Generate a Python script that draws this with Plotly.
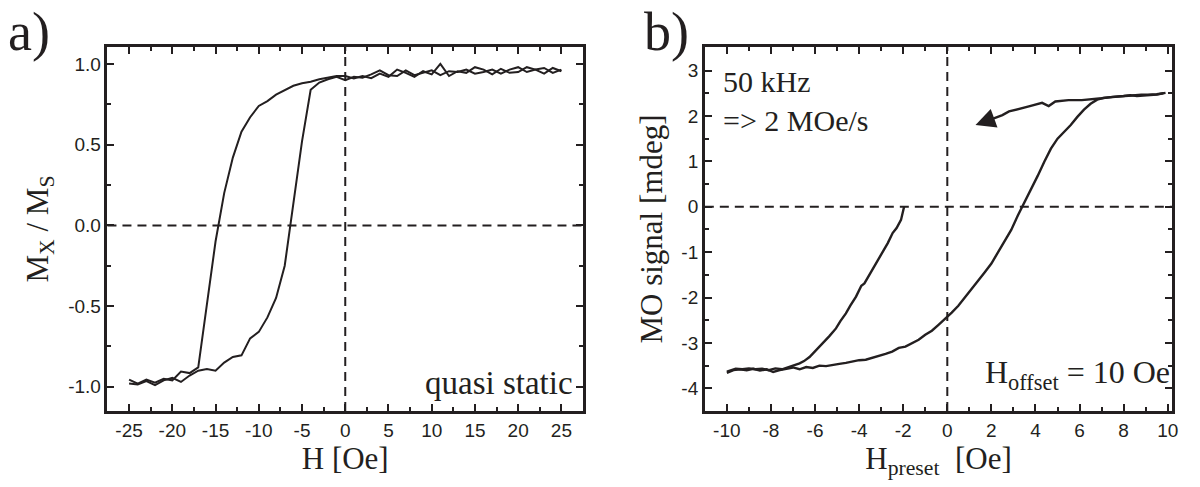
import plotly.graph_objects as go

# ---------------- Panel a data (quasi static loop) ----------------
H_down = [25, 24, 23, 22, 21, 20, 19, 18, 17, 16, 15, 14, 13, 12, 11, 10, 9, 8, 7, 6, 5, 4, 3, 2, 1, 0,
          -1, -2, -3, -4, -5, -6, -7, -8, -9, -10, -11, -12, -13, -14, -15, -16, -17, -18, -19, -20,
          -21, -22, -23, -24, -25]
M_down = [0.955, 0.975, 0.94, 0.965, 0.98, 0.95, 0.945, 0.97, 0.935, 0.965, 0.98, 0.945, 0.955, 0.925,
          1.0, 0.935, 0.955, 0.92, 0.945, 0.965, 0.92, 0.94, 0.912, 0.925, 0.91, 0.925,
          0.925, 0.915, 0.905, 0.89, 0.88, 0.865, 0.84, 0.81, 0.77, 0.74, 0.67, 0.58, 0.42, 0.20,
          -0.10, -0.50, -0.88, -0.915, -0.905, -0.96, -0.95, -0.975, -0.955, -0.98, -0.955]

H_up = [-25, -24, -23, -22, -21, -20, -19, -18, -17, -16, -15, -14, -13, -12, -11, -10, -9, -8, -7,
        -6, -5, -4, -3, -2, -1, 0, 1, 2, 3, 4, 5, 6, 7, 8, 9, 10, 11, 12, 13, 14, 15, 16, 17, 18, 19,
        20, 21, 22, 23, 24, 25]
M_up = [-0.98, -0.985, -0.965, -0.99, -0.96, -0.945, -0.97, -0.93, -0.90, -0.89, -0.90, -0.85, -0.815,
        -0.805, -0.70, -0.66, -0.57, -0.45, -0.25, 0.12, 0.52, 0.84, 0.885, 0.905, 0.92, 0.90, 0.92,
        0.915, 0.935, 0.96, 0.93, 0.925, 0.96, 0.93, 0.945, 0.96, 0.93, 0.955, 0.95, 0.965, 0.94,
        0.95, 0.965, 0.94, 0.965, 0.98, 0.95, 0.965, 0.975, 0.945, 0.965]

# ---------------- Panel b data (50 kHz loop) ----------------
Hb_up = [-10.0, -9.7, -9.4, -9.1, -8.8, -8.5, -8.2, -7.9, -7.6, -7.3, -7.0, -6.7, -6.4, -6.1, -5.8,
         -5.5, -5.2, -4.9, -4.6, -4.3, -4.0, -3.7, -3.4, -3.1, -2.8, -2.5, -2.2, -1.9, -1.6, -1.3,
         -1.0, -0.7, -0.4, -0.1, 0.2, 0.5, 0.8, 1.1, 1.4, 1.7, 2.0, 2.3, 2.6, 2.9, 3.2, 3.5, 3.8,
         4.1, 4.4, 4.7, 5.0, 5.3, 5.6, 5.9, 6.2, 6.5, 6.8, 7.1, 7.4, 7.7, 8.0, 8.3, 8.6, 8.9, 9.2,
         9.5, 9.8]
MO_up = [-3.66, -3.60, -3.58, -3.60, -3.57, -3.61, -3.58, -3.64, -3.60, -3.57, -3.54, -3.58, -3.53,
         -3.55, -3.50, -3.51, -3.48, -3.46, -3.44, -3.41, -3.38, -3.37, -3.33, -3.28, -3.24, -3.19,
         -3.11, -3.08, -3.00, -2.93, -2.82, -2.73, -2.60, -2.47, -2.33, -2.18, -2.00, -1.82, -1.63,
         -1.44, -1.25, -1.00, -0.76, -0.51, -0.19, 0.09, 0.38, 0.68, 0.99, 1.28, 1.50, 1.64, 1.80,
         1.98, 2.14, 2.27, 2.36, 2.40, 2.41, 2.43, 2.44, 2.46, 2.44, 2.45, 2.46, 2.47, 2.50]

Hb_down = [-1.96, -2.1, -2.3, -2.48, -2.7, -2.93, -3.1, -3.24, -3.5, -3.76, -3.9, -4.14, -4.4, -4.6,
           -4.85, -5.05, -5.35, -5.65, -5.95, -6.25, -6.5, -6.7, -7.0, -7.2, -7.5, -7.8, -8.1, -8.4,
           -8.7, -9.0, -9.3, -9.6, -10.0]
MO_down = [0.0, -0.29, -0.47, -0.58, -0.80, -0.99, -1.15, -1.25, -1.46, -1.69, -1.74, -1.98, -2.18,
           -2.35, -2.52, -2.68, -2.85, -3.01, -3.17, -3.31, -3.40, -3.45, -3.50, -3.53, -3.58, -3.56,
           -3.60, -3.57, -3.58, -3.56, -3.58, -3.57, -3.63]

Hb_top = [9.9, 9.5, 9.1, 8.8, 8.4, 7.9, 7.5, 7.0, 6.6, 6.1, 5.5, 4.9, 4.6, 4.3, 3.7, 3.4, 3.1, 2.8,
          2.5, 2.2, 1.9, 1.28]
MO_top = [2.51, 2.48, 2.47, 2.47, 2.45, 2.44, 2.42, 2.39, 2.37, 2.35, 2.35, 2.32, 2.22, 2.29, 2.21,
          2.17, 2.13, 2.10, 2.02, 1.97, 1.91, 1.80]

# ---------------- ticks ----------------
a_xticks = [-25, -20, -15, -10, -5, 0, 5, 10, 15, 20, 25]
a_xlabels = ["-25", "-20", "-15", "-10", "-5", "0", "5", "10", "15", "20", "25"]
a_yticks = [-1.0, -0.5, 0.0, 0.5, 1.0]
a_ylabels = ["-1.0", "-0.5", "0.0", "0.5", "1.0"]
b_xticks = [-10, -8, -6, -4, -2, 0, 2, 4, 6, 8, 10]
b_xlabels = ["-10", "-8", "-6", "-4", "-2", "0", "2", "4", "6", "8", "10"]
b_yticks = [-4, -3, -2, -1, 0, 1, 2, 3]
b_ylabels = ["-4", "-3", "-2", "-1", "0", "1", "2", "3"]

INK = "#231f20"
SERIF = "Liberation Serif"
SANS = "Liberation Sans"

fig = go.Figure()
line_a = dict(color=INK, width=2)
line_b = dict(color=INK, width=2.4)

fig.add_trace(go.Scatter(x=H_down, y=M_down, mode="lines", line=line_a, xaxis="x", yaxis="y",
                         showlegend=False, hoverinfo="skip"))
fig.add_trace(go.Scatter(x=H_up, y=M_up, mode="lines", line=line_a, xaxis="x", yaxis="y",
                         showlegend=False, hoverinfo="skip"))
fig.add_trace(go.Scatter(x=Hb_up, y=MO_up, mode="lines", line=line_b, xaxis="x2", yaxis="y2",
                         showlegend=False, hoverinfo="skip"))
fig.add_trace(go.Scatter(x=Hb_down, y=MO_down, mode="lines", line=line_b, xaxis="x2", yaxis="y2",
                         showlegend=False, hoverinfo="skip"))
fig.add_trace(go.Scatter(x=Hb_top[:-1], y=MO_top[:-1], mode="lines", line=line_b, xaxis="x2",
                         yaxis="y2", showlegend=False, hoverinfo="skip"))


def ax(domain, rng, ticks, labels, minor_dtick, title, anchor, standoff):
    return dict(domain=domain, range=rng, tickvals=ticks, ticktext=labels, ticks="inside",
                ticklen=7, tickwidth=2, tickcolor=INK, showline=True, linewidth=2.5,
                linecolor=INK, mirror="ticks", showgrid=False, zeroline=False, anchor=anchor,
                minor=dict(dtick=minor_dtick, tick0=0, ticks="inside", ticklen=4, tickwidth=1.5,
                           tickcolor=INK, showgrid=False),
                tickfont=dict(family=SANS, size=19, color=INK),
                title=dict(text=title, font=dict(family=SERIF, size=31, color=INK),
                           standoff=standoff))


fig.update_layout(
    width=1200, height=487, margin=dict(l=0, r=0, t=0, b=0),
    paper_bgcolor="white", plot_bgcolor="white",
    xaxis=ax([0.09, 0.4883], [-27.5, 27.5], a_xticks, a_xlabels, 2.5, "H [Oe]", "y", 4),
    yaxis=ax([0.156, 0.9035], [-1.15, 1.105], a_yticks, a_ylabels, 0.25,
             "M<sub>X</sub> / M<sub>S</sub>", "x", 11),
    xaxis2=ax([0.5903, 0.9817], [-11.0, 10.2], b_xticks, b_xlabels, 1,
              "H<sub>preset</sub>  [Oe]", "y2", 4),
    yaxis2=ax([0.156, 0.9035], [-4.5, 3.52], b_yticks, b_ylabels, 0.5, "MO signal [mdeg]",
              "x2", 10),
)

dash = dict(color=INK, width=2, dash="9px,6px")
for xr, yr in (("x", "y"), ("x2", "y2")):
    fig.add_shape(type="line", xref=xr, yref=yr + " domain", x0=0, x1=0, y0=0, y1=1, line=dash)
    fig.add_shape(type="line", xref=xr + " domain", yref=yr, x0=0, x1=1, y0=0, y1=0, line=dash)

# arrow on the top branch of panel b
fig.add_annotation(x=Hb_top[-1], y=MO_top[-1], ax=Hb_top[-2], ay=MO_top[-2], xref="x2", yref="y2",
                   axref="x2", ayref="y2", showarrow=True, arrowhead=2, arrowsize=1.8,
                   arrowwidth=2.2, arrowcolor=INK, text="", standoff=0, startstandoff=0)

fig.add_annotation(text="quasi static", xref="x domain", yref="y domain", x=0.983, y=0.077,
                   xanchor="right", yanchor="middle", showarrow=False,
                   font=dict(family=SERIF, size=33, color=INK))
fig.add_annotation(text="50 kHz<br>=> 2 MOe/s", xref="x2 domain", yref="y2 domain", x=0.035,
                   y=0.955, xanchor="left", yanchor="top", align="left", showarrow=False,
                   font=dict(family=SERIF, size=30, color=INK))
fig.add_annotation(text="H<sub>offset</sub> = 10 Oe", xref="x2 domain", yref="y2 domain", x=1.0,
                   y=0.1, xanchor="right", yanchor="middle", showarrow=False,
                   font=dict(family=SERIF, size=32, color=INK))
fig.add_annotation(text="a)", xref="paper", yref="paper", x=0.005, y=1.0, xanchor="left",
                   yanchor="top", showarrow=False, font=dict(family=SERIF, size=54, color=INK))
fig.add_annotation(text="b)", xref="paper", yref="paper", x=0.538, y=1.0, xanchor="left",
                   yanchor="top", showarrow=False, font=dict(family=SERIF, size=54, color=INK))

fig.write_html("out.html")
